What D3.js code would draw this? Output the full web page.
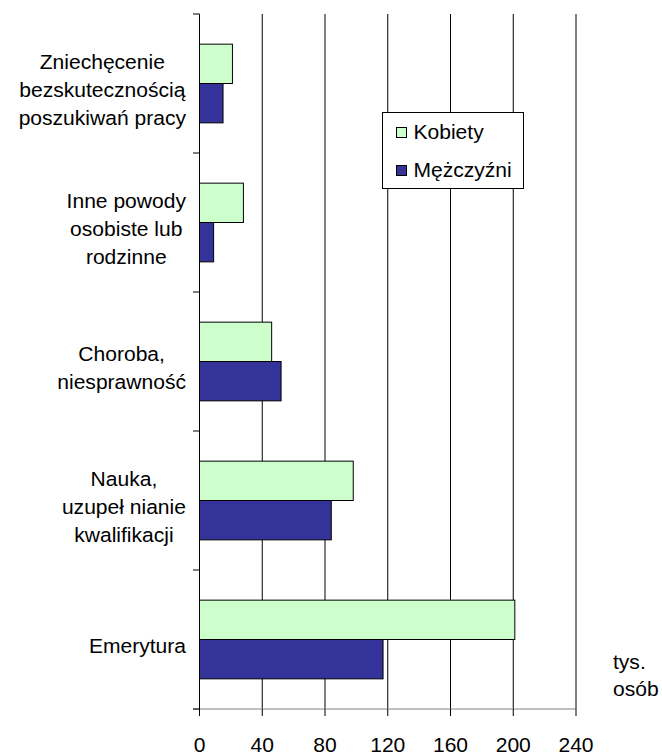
<!DOCTYPE html>
<html>
<head>
<meta charset="utf-8">
<script src="https://cdn.jsdelivr.net/npm/d3@7"></script>
<style>
  body { margin: 0; background: #fff; }
  text { font-family: "Liberation Sans", Arial, sans-serif; fill: #000; }
</style>
</head>
<body>
<svg id="chart" width="662" height="755"></svg>
<script>
// Dane
const categories = [
  ["Zniechęcenie", "bezskutecznością", "poszukiwań pracy"],
  ["Inne powody", "osobiste lub", "rodzinne"],
  ["Choroba,", "niesprawność"],
  ["Nauka,", "uzupeł nianie", "kwalifikacji"],
  ["Emerytura"]
];
const seriesNames = ["Kobiety", "Mężczyźni"];
const kobiety = [21, 28, 46, 98, 201];
const mezczyzni = [15, 9, 52, 84, 117];
const xTicks = [0, 40, 80, 120, 160, 200, 240];
const unitLabel = ["tys.", "osób"];

const colors = { "Kobiety": "#ccffcc", "Mężczyźni": "#333399" };
const sx = 1.08; // tekst lekko rozciągnięty poziomo jak w oryginale
const fs = 19.5;

const svg = d3.select("#chart");

// Skale
const x = d3.scaleLinear().domain([0, 240]).range([199.5, 576]);
const y = d3.scaleBand().domain(d3.range(categories.length)).range([14, 709]).padding(0);
const ySub = d3.scaleBand().domain(seriesNames).range([0, y.bandwidth()])
  .paddingInner(0).paddingOuter(0.766);

// Siatka pionowa
svg.append("g").selectAll("line")
  .data(xTicks.filter(d => d > 0))
  .join("line")
  .attr("x1", d => x(d)).attr("x2", d => x(d))
  .attr("y1", 14).attr("y2", 709)
  .attr("stroke", "#000").attr("stroke-width", 1);

// Słupki
const rows = categories.map((c, i) => ({ i, Kobiety: kobiety[i], "Mężczyźni": mezczyzni[i] }));
const groups = svg.append("g").selectAll("g")
  .data(rows)
  .join("g")
  .attr("transform", d => `translate(0,${y(d.i)})`);

groups.selectAll("rect")
  .data(d => seriesNames.map(s => ({ s, v: d[s] })))
  .join("rect")
  .attr("x", x(0))
  .attr("y", d => ySub(d.s))
  .attr("width", d => x(d.v) - x(0))
  .attr("height", ySub.bandwidth())
  .attr("fill", d => colors[d.s])
  .attr("stroke", "#000")
  .attr("stroke-width", 1);

// Oś X
const xAxisG = svg.append("g").attr("transform", "translate(0,709)");
xAxisG.append("line")
  .attr("x1", 193).attr("x2", x(240))
  .attr("stroke", "#808080").attr("stroke-width", 1);
xAxisG.selectAll("line.tick")
  .data(xTicks)
  .join("line")
  .attr("class", "tick")
  .attr("x1", d => x(d)).attr("x2", d => x(d))
  .attr("y1", 0).attr("y2", 7)
  .attr("stroke", "#000");
xAxisG.selectAll("g.lbl")
  .data(xTicks)
  .join("g")
  .attr("class", "lbl")
  .attr("transform", d => `translate(${x(d)},43) scale(${sx},1)`)
  .append("text")
  .attr("text-anchor", "middle")
  .style("font-size", fs + "px")
  .text(d => d);

// Oś Y
const yAxisG = svg.append("g");
yAxisG.append("line")
  .attr("x1", x(0)).attr("x2", x(0))
  .attr("y1", 14).attr("y2", 709)
  .attr("stroke", "#000");
yAxisG.selectAll("line.tick")
  .data(d3.range(categories.length + 1))
  .join("line")
  .attr("class", "tick")
  .attr("x1", 193).attr("x2", x(0))
  .attr("y1", d => 14 + d * y.step()).attr("y2", d => 14 + d * y.step())
  .attr("stroke", "#000");

// Etykiety kategorii (wyśrodkowane bloki, prawa krawędź ~186)
const lineH = 28.5;
categories.forEach((lines, i) => {
  const cy = y(i) + y.bandwidth() / 2 + 13.5;
  const g = svg.append("g");
  const t = g.append("text").attr("text-anchor", "middle").style("font-size", fs + "px");
  lines.forEach((l, k) => {
    t.append("tspan").attr("x", 0).attr("y", (k - (lines.length - 1) / 2) * lineH).text(l);
  });
  const maxW = d3.max(t.selectAll("tspan").nodes(), n => n.getComputedTextLength());
  g.attr("transform", `translate(${186 - sx * maxW / 2},${cy}) scale(${sx},1)`);
});

// Jednostka
unitLabel.forEach((l, k) => {
  svg.append("g")
    .attr("transform", `translate(613,${669 + k * 27}) scale(${sx},1)`)
    .append("text").style("font-size", fs + "px").text(l);
});

// Legenda
const leg = svg.append("g").attr("transform", "translate(382.5,112.5)");
leg.append("rect")
  .attr("width", 141).attr("height", 76)
  .attr("fill", "#fff").attr("stroke", "#000");
seriesNames.forEach((s, k) => {
  leg.append("rect")
    .attr("x", 14).attr("y", 15 + k * 38)
    .attr("width", 10).attr("height", 10)
    .attr("fill", colors[s]).attr("stroke", "#000");
  leg.append("g")
    .attr("transform", `translate(31,${26.5 + k * 38}) scale(${sx},1)`)
    .append("text").style("font-size", fs + "px").text(s);
});
</script>
</body>
</html>
